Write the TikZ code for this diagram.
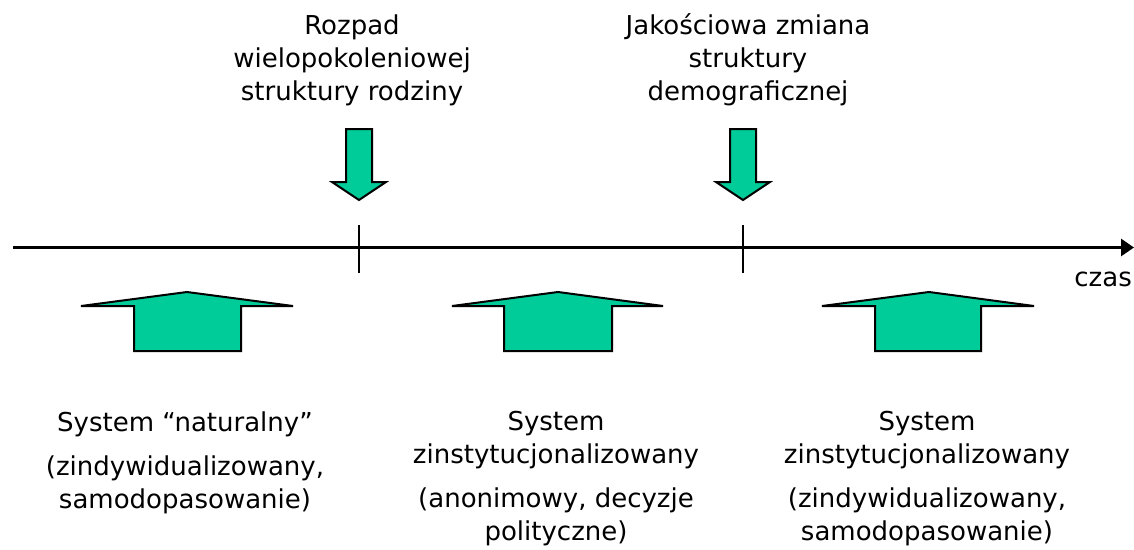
\documentclass[tikz,border=0pt]{standalone}
\usepackage{fontspec}
\setmainfont{DejaVu Sans}
\usetikzlibrary{arrows.meta}
\definecolor{tealgreen}{RGB}{0,204,153}
\tikzset{
  lbl/.style={align=center, inner sep=0pt, anchor=base, font=\fontsize{26}{33}\selectfont},
  arrowbox/.style={draw=black, line width=2pt, fill=tealgreen, line join=miter},
  tickline/.style={line width=1.6pt}
}
\begin{document}
\begin{tikzpicture}[x=1pt,y=-1pt]
\useasboundingbox (0,0) rectangle (1134,549);
% axis
\coordinate (a0) at (13,247.5);
\coordinate (a1) at (1134,247.5);
\draw[line width=3pt,-{Triangle[length=13pt,width=17pt]}] (a0) -- (a1);
\node[lbl, anchor=base east] (czas) at (1132,286) {czas};
% ticks
\coordinate (t1) at (359,247.5);
\coordinate (t2) at (743,247.5);
\draw[tickline] ([yshift=-25.5pt]t1) -- ([yshift=22.5pt]t1);
\draw[tickline] ([yshift=-25.5pt]t2) -- ([yshift=22.5pt]t2);
% down arrows
\draw[arrowbox] (346,129) -- (372,129) -- (372,182) -- (386,182) -- (359,200) -- (332,182) -- (346,182) -- cycle;
\draw[arrowbox] (730,129) -- (756,129) -- (756,182) -- (770,182) -- (743,200) -- (716,182) -- (730,182) -- cycle;
% up arrows
\draw[arrowbox] (81,306) -- (187,292) -- (293,306) -- (241,306) -- (241,351) -- (134,351) -- (134,306) -- cycle;
\draw[arrowbox] (452,306) -- (558,292) -- (663,306) -- (612,306) -- (612,351) -- (504,351) -- (504,306) -- cycle;
\draw[arrowbox] (822,306) -- (929,292) -- (1034,306) -- (981,306) -- (981,351) -- (875,351) -- (875,306) -- cycle;
% top labels (anchor = baseline of last line)
\node[lbl] (e1) at (352,100) {Rozpad\\wielopokoleniowej\\struktury rodziny};
\node[lbl] (e2) at (748,100) {Jakościowa zmiana\\struktury\\demograficznej};
% bottom labels
\node[lbl] (s1) at (185,508) {System “naturalny”\\[11pt](zindywidualizowany,\\samodopasowanie)};
\node[lbl] (s2) at (556,540) {System\\zinstytucjonalizowany\\[11pt](anonimowy, decyzje\\polityczne)};
\node[lbl] (s3) at (927,540) {System\\zinstytucjonalizowany\\[11pt](zindywidualizowany,\\samodopasowanie)};
\end{tikzpicture}
\end{document}
